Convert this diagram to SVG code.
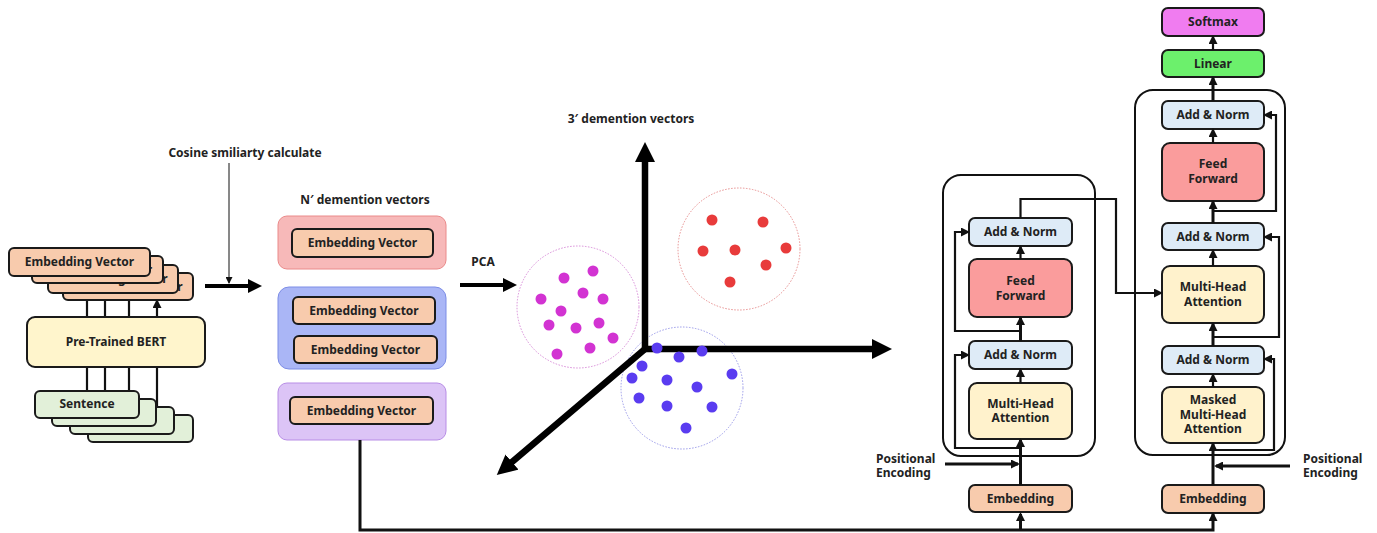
<svg xmlns="http://www.w3.org/2000/svg" width="1377" height="533" viewBox="0 0 1377 533">
<style>
text{font-family:"Noto Sans","Open Sans","Liberation Sans",sans-serif;font-weight:bold;fill:#222;font-size:12px;text-anchor:middle}
.lbl{text-anchor:start}
.card{stroke:#1a1a1a;stroke-width:2}
.ev{fill:#f8cbad}
.sent{fill:#e2f0d9}
.bert{fill:#fff5cc}
.an{fill:#deebf7}
.ff{fill:#fa9c9c}
.mha{fill:#fff2cc}
.emb{fill:#f8cbad}
.lin{fill:#6cf06c}
.sm{fill:#f07cf0}
.outer{fill:none;stroke:#111;stroke-width:2}
.ln{fill:none;stroke:#111;stroke-width:2.2}
.thk{fill:none;stroke:#111;stroke-width:3}
.axis{fill:none;stroke:#000;stroke-width:6.5;stroke-linecap:round}
.dm{fill:#d233d2}
.dr{fill:#e83b3b}
.db{fill:#5a3cf0}
</style>
<defs>
<marker id="big" markerUnits="userSpaceOnUse" markerWidth="20" markerHeight="20" refX="0" refY="10" orient="auto"><path d="M0,0 L20,10 L0,20 z" fill="#000"/></marker>
<marker id="med" markerUnits="userSpaceOnUse" markerWidth="14" markerHeight="14" refX="0" refY="7" orient="auto"><path d="M0,0 L14,7 L0,14 z" fill="#000"/></marker>
<marker id="sm" markerUnits="userSpaceOnUse" markerWidth="9" markerHeight="9" refX="7" refY="4.5" orient="auto"><path d="M0,0 L9,4.5 L0,9 z" fill="#111"/></marker>
<marker id="xs" markerUnits="userSpaceOnUse" markerWidth="7" markerHeight="7" refX="6" refY="3.5" orient="auto"><path d="M0,0 L7,3.5 L0,7 z" fill="#111"/></marker>
</defs>

<!-- left stack lines (behind boxes) -->
<g id="stack-lines">
<path class="ln" d="M87,391 V277" marker-end="url(#sm)"/>
<path class="ln" d="M105,399 V284" marker-end="url(#sm)"/>
<path class="ln" d="M129,407 V293" marker-end="url(#sm)"/>
<path class="ln" d="M157,415 V301" marker-end="url(#sm)"/>
</g>

<g id="embedding-stack">
<rect class="card ev" x="63" y="273" width="130" height="27" rx="5"/>
<text x="128" y="291">Embedding Vector</text>
<rect class="card ev" x="48" y="265" width="130" height="28" rx="5"/>
<text x="113" y="283">Embedding Vector</text>
<rect class="card ev" x="32" y="256" width="131" height="27" rx="5"/>
<text x="97.5" y="274">Embedding Vector</text>
<rect class="card ev" x="9" y="248" width="141" height="28" rx="5"/>
<text x="79.5" y="266">Embedding Vector</text>
</g>

<g id="bert">
<rect class="card bert" x="27" y="317" width="178" height="50" rx="8"/>
<text x="116" y="346">Pre-Trained BERT</text>
</g>

<g id="sentence-stack">
<rect class="card sent" x="88" y="415" width="105" height="27" rx="5"/>
<rect class="card sent" x="70" y="407" width="104" height="27" rx="5"/>
<rect class="card sent" x="52" y="399" width="104" height="27" rx="5"/>
<rect class="card sent" x="35" y="391" width="104" height="27" rx="5"/>
<text x="87" y="408">Sentence</text>
</g>

<text x="245" y="157">Cosine smiliarty calculate</text>
<text x="365" y="204">N′ demention vectors</text>
<text x="483" y="266">PCA</text>
<text x="631" y="123">3′ demention vectors</text>

<g id="group-red">
<rect x="278" y="216" width="168" height="53" rx="9" fill="#f7b9b9" stroke="#ea8a8a" stroke-width="1"/>
<rect class="card ev" x="292" y="229" width="141" height="28" rx="5"/>
<text x="362.5" y="247">Embedding Vector</text>
</g>
<g id="group-blue">
<rect x="278" y="287" width="168" height="82" rx="11" fill="#aab6f6" stroke="#7d8de6" stroke-width="1"/>
<rect class="card ev" x="293" y="297" width="142" height="27" rx="5"/>
<text x="364" y="315">Embedding Vector</text>
<rect class="card ev" x="294" y="336" width="143" height="27" rx="5"/>
<text x="365.5" y="354">Embedding Vector</text>
</g>
<g id="group-purple">
<rect x="278" y="383" width="168" height="57" rx="9" fill="#dcc4f6" stroke="#b88de6" stroke-width="1"/>
<rect class="card ev" x="290" y="397" width="143" height="27" rx="5"/>
<text x="361.5" y="415">Embedding Vector</text>
</g>

<!-- clusters -->
<g id="clusters-outline">
<circle cx="578" cy="307" r="61" fill="none" stroke="#d98cd9" stroke-width="1" stroke-dasharray="1.5 1.5"/>
<circle cx="739" cy="249" r="61" fill="none" stroke="#e89090" stroke-width="1" stroke-dasharray="1.5 1.5"/>
<circle cx="682" cy="388" r="61" fill="none" stroke="#9a9aea" stroke-width="1" stroke-dasharray="1.5 1.5"/>
</g>

<g id="axes">
<path class="axis" d="M645,349 V162" marker-end="url(#big)"/>
<path class="axis" d="M645,349 H872" marker-end="url(#big)"/>
<path class="axis" d="M645,349 L512,462" marker-end="url(#big)"/>
</g>

<g id="dots">
<circle class="dm" cx="564" cy="278" r="5.5"/><circle class="dm" cx="593" cy="271" r="5.5"/>
<circle class="dm" cx="541" cy="299" r="5.5"/><circle class="dm" cx="583" cy="293" r="5.5"/>
<circle class="dm" cx="603" cy="299" r="5.5"/><circle class="dm" cx="561" cy="311" r="5.5"/>
<circle class="dm" cx="549" cy="325" r="5.5"/><circle class="dm" cx="576" cy="328" r="5.5"/>
<circle class="dm" cx="599" cy="323" r="5.5"/><circle class="dm" cx="613" cy="338" r="5.5"/>
<circle class="dm" cx="557" cy="354" r="5.5"/><circle class="dm" cx="590" cy="348" r="5.5"/>
<circle class="dr" cx="712" cy="220" r="5.5"/><circle class="dr" cx="763" cy="222" r="5.5"/>
<circle class="dr" cx="703" cy="251" r="5.5"/><circle class="dr" cx="735" cy="250" r="5.5"/>
<circle class="dr" cx="786" cy="248" r="5.5"/><circle class="dr" cx="766" cy="265" r="5.5"/>
<circle class="dr" cx="730" cy="282" r="5.5"/>
<circle class="db" cx="657" cy="348" r="5.5"/><circle class="db" cx="679" cy="357" r="5.5"/>
<circle class="db" cx="702" cy="351" r="5.5"/><circle class="db" cx="642" cy="366" r="5.5"/>
<circle class="db" cx="632" cy="378" r="5.5"/><circle class="db" cx="667" cy="380" r="5.5"/>
<circle class="db" cx="697" cy="387" r="5.5"/><circle class="db" cx="732" cy="374" r="5.5"/>
<circle class="db" cx="639" cy="398" r="5.5"/><circle class="db" cx="667" cy="406" r="5.5"/>
<circle class="db" cx="712" cy="407" r="5.5"/><circle class="db" cx="686" cy="428" r="5.5"/>
</g>

<!-- encoder -->
<g id="encoder">
<rect class="outer" x="943" y="175" width="152" height="281" rx="18"/>
</g>
<g id="enc-addnorm-top"><rect class="card an" x="969" y="218" width="103" height="28" rx="6"/><text x="1020.5" y="236">Add &amp; Norm</text></g>
<g id="enc-ff"><rect class="card ff" x="969" y="259" width="103" height="58" rx="8"/><text x="1020.5" y="285">Feed</text><text x="1020.5" y="300">Forward</text></g>
<g id="enc-addnorm"><rect class="card an" x="969" y="341" width="103" height="28" rx="6"/><text x="1020.5" y="359">Add &amp; Norm</text></g>
<g id="enc-mha"><rect class="card mha" x="969" y="383" width="103" height="56" rx="8"/><text x="1020.5" y="408">Multi-Head</text><text x="1020.5" y="422">Attention</text></g>
<g id="enc-emb"><rect class="card emb" x="969" y="485" width="103" height="27" rx="6"/><text x="1020.5" y="503">Embedding</text></g>
<text class="lbl" x="876" y="463">Positional</text>
<text class="lbl" x="876" y="477">Encoding</text>

<!-- decoder -->
<g id="decoder">
<rect class="outer" x="1135" y="90" width="150" height="365" rx="18"/>
</g>
<g id="dec-softmax"><rect class="card sm" x="1162" y="8" width="102" height="28" rx="6"/><text x="1213" y="26">Softmax</text></g>
<g id="dec-linear"><rect class="card lin" x="1162" y="50" width="102" height="27" rx="6"/><text x="1213" y="68">Linear</text></g>
<g id="dec-addnorm1"><rect class="card an" x="1162" y="101" width="102" height="28" rx="6"/><text x="1213" y="119">Add &amp; Norm</text></g>
<g id="dec-ff"><rect class="card ff" x="1162" y="143" width="102" height="58" rx="8"/><text x="1213" y="168">Feed</text><text x="1213" y="183">Forward</text></g>
<g id="dec-addnorm2"><rect class="card an" x="1162" y="223" width="102" height="27" rx="6"/><text x="1213" y="241">Add &amp; Norm</text></g>
<g id="dec-mha"><rect class="card mha" x="1162" y="266" width="102" height="57" rx="8"/><text x="1213" y="291">Multi-Head</text><text x="1213" y="306">Attention</text></g>
<g id="dec-addnorm3"><rect class="card an" x="1162" y="346" width="102" height="28" rx="6"/><text x="1213" y="364">Add &amp; Norm</text></g>
<g id="dec-masked"><rect class="card mha" x="1162" y="387" width="102" height="56" rx="8"/><text x="1213" y="404">Masked</text><text x="1213" y="419">Multi-Head</text><text x="1213" y="433">Attention</text></g>
<g id="dec-emb"><rect class="card emb" x="1162" y="485" width="102" height="28" rx="6"/><text x="1213" y="503">Embedding</text></g>
<text class="lbl" x="1303" y="463">Positional</text>
<text class="lbl" x="1303" y="477">Encoding</text>

<g id="connectors">
<path fill="none" stroke="#000" stroke-width="4" d="M205,286 H248" marker-end="url(#med)"/>
<path fill="none" stroke="#111" stroke-width="1" d="M229,163 V283" marker-end="url(#xs)"/>
<path fill="none" stroke="#000" stroke-width="4" d="M460,285 H503" marker-end="url(#med)"/>
<path class="thk" d="M360,440 V530 H1213 V514" marker-end="url(#sm)"/>
<path class="thk" d="M1020.5,530 V514" marker-end="url(#sm)"/>
<!-- encoder internal -->
<path class="thk" d="M1020.5,485 V440" marker-end="url(#sm)"/>
<path class="thk" d="M945,464 H1018" marker-end="url(#sm)"/>
<path class="ln" d="M1020.5,448 H955 V355 H968" marker-end="url(#sm)"/>
<path class="ln" d="M1020.5,383 V370" marker-end="url(#sm)"/>
<path class="thk" d="M1020.5,341 V318" marker-end="url(#sm)"/>
<path class="ln" d="M1020.5,331 H955 V232 H968" marker-end="url(#sm)"/>
<path class="ln" d="M1020.5,259 V247" marker-end="url(#sm)"/>
<path class="ln" d="M1020.5,218 V199 H1116 V293 H1161" marker-end="url(#sm)"/>
<!-- decoder internal -->
<path class="thk" d="M1213,485 V444" marker-end="url(#sm)"/>
<path class="thk" d="M1290,466 H1216" marker-end="url(#sm)"/>
<path class="ln" d="M1213,450 H1274 V359 H1265" marker-end="url(#sm)"/>
<path class="ln" d="M1213,387 V375" marker-end="url(#sm)"/>
<path class="thk" d="M1213,346 V324" marker-end="url(#sm)"/>
<path class="ln" d="M1213,337 H1279 V237 H1265" marker-end="url(#sm)"/>
<path class="ln" d="M1213,266 V251" marker-end="url(#sm)"/>
<path class="thk" d="M1213,223 V202" marker-end="url(#sm)"/>
<path class="ln" d="M1213,211 H1276 V115 H1265" marker-end="url(#sm)"/>
<path class="ln" d="M1213,143 V130" marker-end="url(#sm)"/>
<path class="thk" d="M1213,101 V78" marker-end="url(#sm)"/>
<path class="ln" d="M1213,50 V37" marker-end="url(#sm)"/>
</g>
</svg>
